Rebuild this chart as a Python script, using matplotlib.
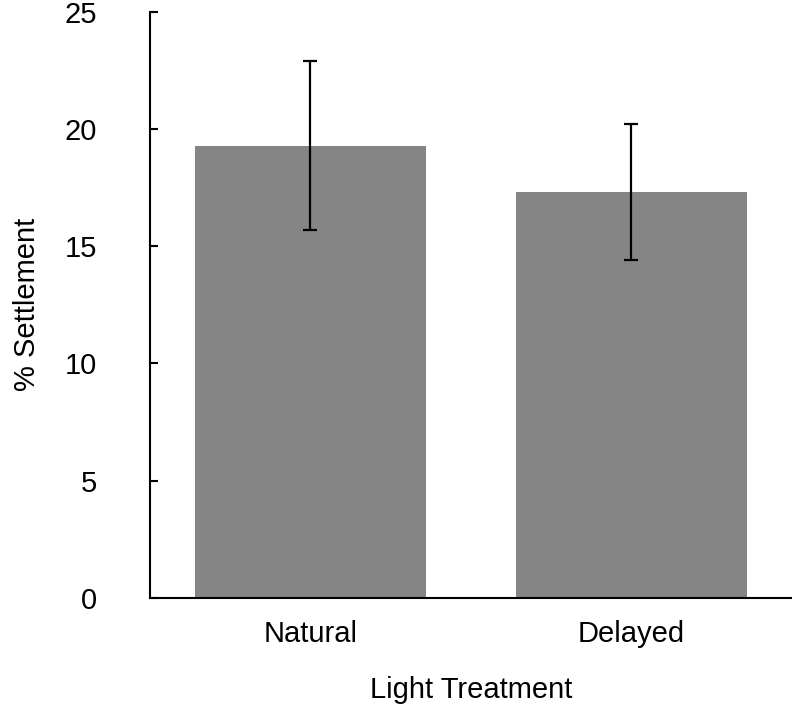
import matplotlib.pyplot as plt
import numpy as np

plt.rcParams['font.family'] = ['Liberation Sans', 'DejaVu Sans']

treatments = ['Natural', 'Delayed']
settlement = [19.3, 17.3]
errors = [3.6, 2.9]
yticks = [0, 5, 10, 15, 20, 25]

fig = plt.figure(figsize=(7.92, 7.04), dpi=100)
ax = fig.add_axes([0.189, 0.151, 0.811, 0.832])

x = np.arange(len(treatments))
ax.bar(x, settlement, width=0.72, color='#858585', zorder=2)
ax.errorbar(x, settlement, yerr=errors, fmt='none', ecolor='black',
            elinewidth=1.6, capsize=5, capthick=1.6, zorder=3)

ax.set_xlim(-0.5, 1.5)
ax.set_ylim(0, 25)
ax.set_yticks(yticks)
ax.set_xticks(x)
ax.set_xticklabels(treatments)

ax.spines['top'].set_visible(False)
ax.spines['right'].set_visible(False)
for s in ['left', 'bottom']:
    ax.spines[s].set_linewidth(1.5)

ax.tick_params(axis='y', direction='in', length=6, width=1.5, pad=38, labelsize=21)
ax.tick_params(axis='x', length=0, pad=16, labelsize=21)

ax.set_xlabel('Light Treatment', fontsize=21, labelpad=20)
ax.set_ylabel('% Settlement', fontsize=21, labelpad=17)

fig.savefig('out.png', dpi=100)
